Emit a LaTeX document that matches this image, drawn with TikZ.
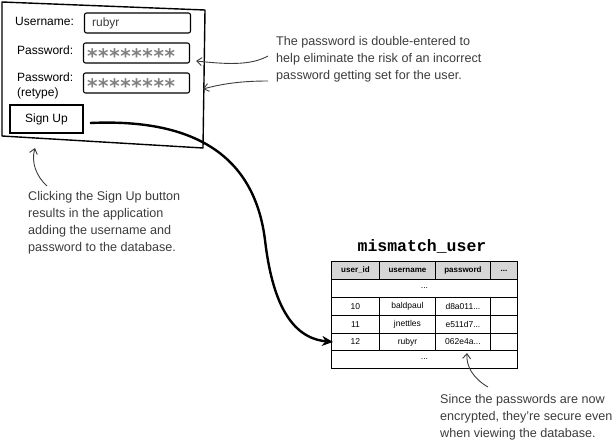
\documentclass[tikz,border=0pt]{standalone}
\usepackage{fontspec}
\setmainfont{Liberation Sans}
\newfontfamily\monob{Liberation Mono}
\newfontfamily\starfont{DejaVu Sans}
\usetikzlibrary{arrows.meta}
\definecolor{annot}{HTML}{3C3C3C}
\definecolor{hdr}{HTML}{D6D6D6}
\definecolor{stargray}{HTML}{808080}
\newcommand{\starrow}{*\kern0.6pt*\kern0.6pt*\kern0.6pt*\kern0.6pt*\kern0.6pt*\kern0.6pt*\kern0.6pt*}
\tikzset{
  frame/.style={draw=black, line width=1.4pt, line join=round},
  field/.style={draw=black, line width=1.1pt, rounded corners=2pt, minimum width=106pt, minimum height=20pt, inner sep=0pt},
  btnbox/.style={draw=black, line width=1.2pt, minimum width=73pt, minimum height=28pt, inner sep=0pt, font=\fontsize{12}{14}\selectfont},
  lbl/.style={anchor=west, inner sep=0pt, font=\fontsize{12}{15}\selectfont, align=left},
  stars/.style={anchor=base west, inner sep=0pt, text=stargray, font=\starfont\bfseries\fontsize{20}{20}\selectfont},
  note/.style={anchor=north west, inner sep=0pt, text=annot, align=left, font=\fontsize{12.6}{17}\selectfont},
  notearrow/.style={draw=annot, line width=0.9pt, -{Straight Barb[length=5pt,width=8pt]}},
  bigarrow/.style={draw=black, line width=2.4pt, -{Stealth[length=11pt,width=10pt]}},
  cell/.style={draw=black, line width=0.9pt, anchor=north west, inner sep=0pt, minimum height=18pt, font=\fontsize{8.5}{10}\selectfont},
  hcell/.style={cell, fill=hdr, font=\bfseries\fontsize{8}{10}\selectfont},
}
\begin{document}
\begin{tikzpicture}[x=1pt,y=-1pt]
\useasboundingbox (0,0) rectangle (613,445);
% form frame
\draw[frame] (2,2) -- (205,10) -- (203,148) -- (2,136) -- cycle;
% labels
\node[lbl] (lu) at (15,21) {Username:};
\node[lbl] (lp1) at (17,50) {Password:};
\node[lbl] (lp2) at (17,86) {Password:\\(retype)};
% fields
\node[field] (uname) at (137.5,23) {};
\node[anchor=west, inner sep=0pt, text=annot, font=\fontsize{12}{14}\selectfont] (utext) at ([xshift=8pt]uname.west) {rubyr};
\node[field] (pw1) at (136.5,53) {};
\node[stars] (s1) at ([xshift=4pt,yshift=-10.5pt]pw1.west) {\starrow};
\node[field] (pw2) at (136.5,83) {};
\node[stars] (s2) at ([xshift=4pt,yshift=-10.5pt]pw2.west) {\starrow};
% sign up
\node[btnbox] (signup) at (46.5,119) {Sign Up};
% annotations
\node[note] (n1) at (276,36) {The password is double-entered to\\help eliminate the risk of an incorrect\\password getting set for the user.};
\coordinate (a1s) at (268,56);
\coordinate (a1e) at (196,61);
\coordinate (a2s) at (268,81);
\coordinate (a2e) at (203,89);
\draw[notearrow] (a1s) .. controls (250,66) and (225,64) .. (a1e);
\draw[notearrow] (a2s) .. controls (245,81) and (225,83) .. (a2e);
\node[note] (n2) at (28,191) {Clicking the Sign Up button\\results in the application\\adding the username and\\password to the database.};
\coordinate (a3s) at (47,186);
\coordinate (a3e) at (35,148);
\draw[notearrow] (a3s) .. controls (36,176) and (31,162) .. (a3e);
% table
\node[font=\monob\bfseries\fontsize{16.5}{18}\selectfont, inner sep=0pt] (title) at (422,246) {mismatch\_user};
\node[hcell, minimum width=48pt] (h1) at (331,261) {user\_id};
\node[hcell, minimum width=56pt] (h2) at (379,261) {username};
\node[hcell, minimum width=55pt] (h3) at (435,261) {password};
\node[hcell, minimum width=27pt] (h4) at (490,261) {...};
\node[cell, minimum width=186pt] (d1) at (331,279) {...};
\node[cell, minimum width=48pt] (r10a) at (331,297) {10};
\node[cell, minimum width=56pt] (r10b) at (379,297) {baldpaul};
\node[cell, minimum width=55pt] (r10c) at (435,297) {d8a011...};
\node[cell, minimum width=27pt] (r10d) at (490,297) {};
\node[cell, minimum width=48pt] (r11a) at (331,315) {11};
\node[cell, minimum width=56pt] (r11b) at (379,315) {jnettles};
\node[cell, minimum width=55pt] (r11c) at (435,315) {e511d7...};
\node[cell, minimum width=27pt] (r11d) at (490,315) {};
\node[cell, minimum width=48pt, minimum height=17pt] (r12a) at (331,333) {12};
\node[cell, minimum width=56pt, minimum height=17pt] (r12b) at (379,333) {rubyr};
\node[cell, minimum width=55pt, minimum height=17pt] (r12c) at (435,333) {062e4a...};
\node[cell, minimum width=27pt, minimum height=17pt] (r12d) at (490,333) {};
\node[cell, minimum width=186pt] (d2) at (331,350) {...};
% big arrow
\coordinate (bs) at (90,123);
\draw[bigarrow] (bs) .. controls (200,118) and (255,160) .. (265,240)
  .. controls (272,300) and (290,338) .. ([xshift=2pt]r12a.west);
% bottom note
\node[note] (n3) at (440,394) {Since the passwords are now\\encrypted, they're secure even\\when viewing the database.};
\coordinate (a4s) at (488,387);
\coordinate (a4e) at (467,353);
\draw[notearrow] (a4s) .. controls (474,379) and (466,367) .. (a4e);
\end{tikzpicture}
\end{document}
